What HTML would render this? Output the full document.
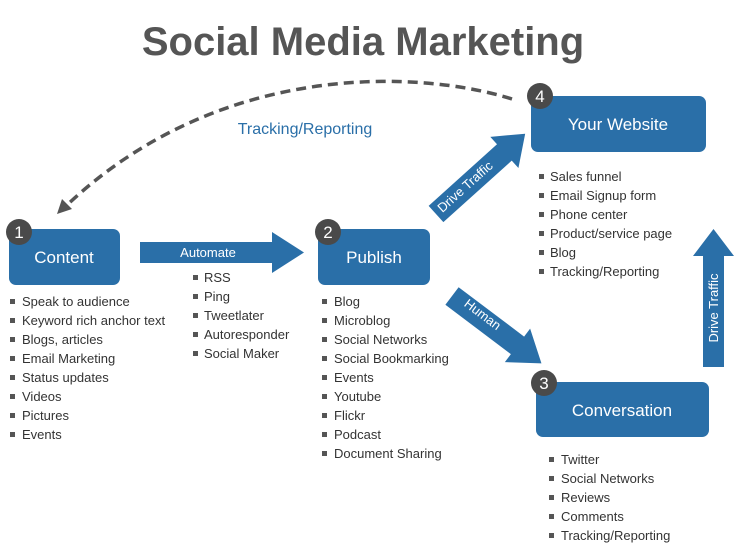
<!DOCTYPE html>
<html><head><meta charset="utf-8"><style>
html,body{margin:0;padding:0;background:#fff;}
svg{display:block;font-family:"Liberation Sans",sans-serif;}
</style></head><body>
<svg width="736" height="558" viewBox="0 0 736 558" xmlns="http://www.w3.org/2000/svg">
<text x="363" y="55" text-anchor="middle" font-size="40" font-weight="bold" fill="#555">Social Media Marketing</text>
<!-- dashed curve -->
<path d="M512,99 C420,70 220,60 66,206" fill="none" stroke="#555" stroke-width="3.5" stroke-dasharray="10,6"/>
<polygon points="57,214 62,199 72,209" fill="#555"/>
<text x="305" y="134" text-anchor="middle" font-size="16" fill="#2a6fa8">Tracking/Reporting</text>
<!-- boxes -->
<g fill="#2a6fa8">
<rect x="9" y="229" width="111" height="56" rx="7"/>
<rect x="318" y="229" width="112" height="56" rx="7"/>
<rect x="531" y="96" width="175" height="56" rx="7"/>
<rect x="536" y="382" width="173" height="55" rx="7"/>
<!-- automate arrow -->
<polygon points="140,242 272,242 272,232 304,252.5 272,273 272,263 140,263"/>
<!-- vertical arrow -->
<polygon points="703,367 703,256 693,256 713.5,229 734,256 724,256 724,367"/>
<!-- drive traffic diagonal -->
<g transform="translate(436,214) rotate(-42)">
<polygon points="0,-11 92,-11 92,-21 120,0 92,21 92,11 0,11"/>
</g>
<!-- human diagonal -->
<g transform="translate(452,296) rotate(37)">
<polygon points="0,-11 82,-11 82,-21 112,0 82,21 82,11 0,11"/>
</g>
</g>
<text x="208" y="257" text-anchor="middle" font-size="13" fill="#fff">Automate</text>
<text x="0" y="0" font-size="13" fill="#fff" text-anchor="middle" transform="translate(468,190) rotate(-42)">Drive Traffic</text>
<text x="0" y="0" font-size="13" fill="#fff" text-anchor="middle" transform="translate(480,318) rotate(37)">Human</text>
<text x="0" y="0" font-size="13" fill="#fff" text-anchor="middle" transform="translate(718,308) rotate(-90)">Drive Traffic</text>
<g font-size="17" fill="#fff" text-anchor="middle">
<text x="64" y="263">Content</text>
<text x="374" y="263">Publish</text>
<text x="618" y="130">Your Website</text>
<text x="622" y="416">Conversation</text>
</g>
<!-- circles -->
<g fill="#4a4a4a">
<circle cx="19" cy="232" r="13"/><circle cx="328" cy="232" r="13"/>
<circle cx="540" cy="96" r="13"/><circle cx="544" cy="383" r="13"/>
</g>
<g font-size="17" fill="#fff" text-anchor="middle">
<text x="19" y="238">1</text><text x="328" y="238">2</text>
<text x="540" y="102">4</text><text x="544" y="389">3</text>
</g>
<!-- lists -->
<g font-size="13" fill="#333">
<g transform="translate(22,306)">
<text y="0">Speak to audience</text><text y="19">Keyword rich anchor text</text><text y="38">Blogs, articles</text><text y="57">Email Marketing</text><text y="76">Status updates</text><text y="95">Videos</text><text y="114">Pictures</text><text y="133">Events</text>
</g>
<g transform="translate(204,282)">
<text y="0">RSS</text><text y="19">Ping</text><text y="38">Tweetlater</text><text y="57">Autoresponder</text><text y="76">Social Maker</text>
</g>
<g transform="translate(334,306)">
<text y="0">Blog</text><text y="19">Microblog</text><text y="38">Social Networks</text><text y="57">Social Bookmarking</text><text y="76">Events</text><text y="95">Youtube</text><text y="114">Flickr</text><text y="133">Podcast</text><text y="152">Document Sharing</text>
</g>
<g transform="translate(550,181)">
<text y="0">Sales funnel</text><text y="19">Email Signup form</text><text y="38">Phone center</text><text y="57">Product/service page</text><text y="76">Blog</text><text y="95">Tracking/Reporting</text>
</g>
<g transform="translate(561,464)">
<text y="0">Twitter</text><text y="19">Social Networks</text><text y="38">Reviews</text><text y="57">Comments</text><text y="76">Tracking/Reporting</text>
</g>
</g>
<g fill="#555">
<g transform="translate(10,299)"><rect y="0" width="5" height="5"/><rect y="19" width="5" height="5"/><rect y="38" width="5" height="5"/><rect y="57" width="5" height="5"/><rect y="76" width="5" height="5"/><rect y="95" width="5" height="5"/><rect y="114" width="5" height="5"/><rect y="133" width="5" height="5"/></g>
<g transform="translate(193,275)"><rect y="0" width="5" height="5"/><rect y="19" width="5" height="5"/><rect y="38" width="5" height="5"/><rect y="57" width="5" height="5"/><rect y="76" width="5" height="5"/></g>
<g transform="translate(322,299)"><rect y="0" width="5" height="5"/><rect y="19" width="5" height="5"/><rect y="38" width="5" height="5"/><rect y="57" width="5" height="5"/><rect y="76" width="5" height="5"/><rect y="95" width="5" height="5"/><rect y="114" width="5" height="5"/><rect y="133" width="5" height="5"/><rect y="152" width="5" height="5"/></g>
<g transform="translate(539,174)"><rect y="0" width="5" height="5"/><rect y="19" width="5" height="5"/><rect y="38" width="5" height="5"/><rect y="57" width="5" height="5"/><rect y="76" width="5" height="5"/><rect y="95" width="5" height="5"/></g>
<g transform="translate(549,457)"><rect y="0" width="5" height="5"/><rect y="19" width="5" height="5"/><rect y="38" width="5" height="5"/><rect y="57" width="5" height="5"/><rect y="76" width="5" height="5"/></g>
</g>
</svg>
</body></html>
